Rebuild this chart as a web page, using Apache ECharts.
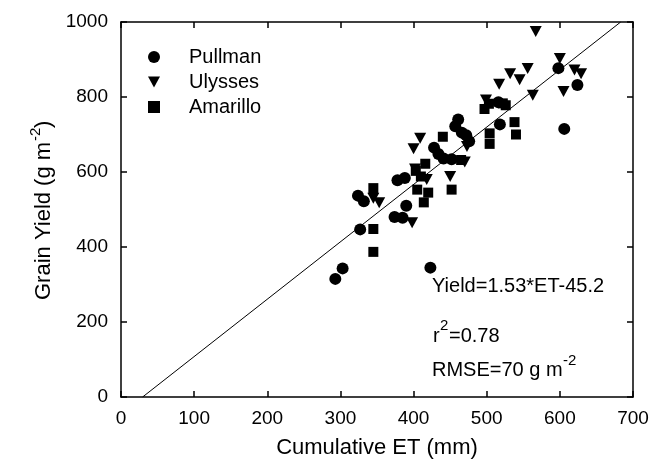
<!DOCTYPE html>
<html>
<head>
<meta charset="utf-8">
<script src="https://cdn.jsdelivr.net/npm/echarts@6/dist/echarts.min.js"></script>
<style>
html,body{margin:0;padding:0;background:#fff;}
#main{width:654px;height:466px;}
</style>
</head>
<body>
<div id="main"></div>
<script>
// 数据: [ET (mm), yield (g m-2)]
var pullman = [
    [293,315],[303,343],[327,447],[324,537],[332,522],[374,480],[385,478],
    [378,578],[388,584],[390,510],[423,345],[428,665],[434,648],[441,636],
    [452,634],[457,722],[461,740],[466,705],[472,698],[476,682],[516,786],
    [518,727],[598,877],[606,715],[624,832]
];
var ulysses = [
    [345,530],[353,518],[398,465],[400,662],[402,608],[409,690],[418,580],
    [450,588],[470,627],[473,668],[499,792],[517,834],[532,862],[545,846],
    [556,876],[563,805],[567,975],[600,903],[605,815],[620,872],[629,862]
];
var amarillo = [
    [345,387],[345,448],[345,557],[405,553],[414,519],[410,588],[403,603],
    [416,622],[440,694],[452,553],[465,632],[497,768],[503,782],[522,783],
    [526,778],[504,703],[504,675],[538,733],[540,700],[420,545]
];
var seriesNames = ['Pullman', 'Ulysses', 'Amarillo'];
var xTicks = [0, 100, 200, 300, 400, 500, 600, 700];
var yTicks = [0, 200, 400, 600, 800, 1000];
// 回归: Yield = 1.53*ET - 45.2
var slope = 1.53, intercept = -45.2;

var font = 'Liberation Sans, Arial, sans-serif';
var triIcon = 'path://M0,0L10,0L5,9Z';

// 回归线两端点
var fitLine = [
    [-intercept / slope, 0],
    [(yTicks[yTicks.length - 1] - intercept) / slope, yTicks[yTicks.length - 1]]
];

var chart = echarts.init(document.getElementById('main'));

function baseX(pos){
    return {
        type: 'value', position: pos,
        min: xTicks[0], max: xTicks[xTicks.length - 1], interval: 100,
        axisLine: {show: true, onZero: false, lineStyle: {color: '#000', width: 1.5}},
        axisTick: {show: true, inside: true, length: 6, lineStyle: {color: '#000', width: 1.5}},
        axisLabel: {show: pos == 'bottom', color: '#000', fontSize: 19, fontFamily: font, margin: 12,
            formatter: function(v){ return String(v); }},
        splitLine: {show: false}
    };
}
function baseY(pos){
    return {
        type: 'value', position: pos,
        min: yTicks[0], max: yTicks[yTicks.length - 1], interval: 200,
        axisLine: {show: true, onZero: false, lineStyle: {color: '#000', width: 1.5}},
        axisTick: {show: true, inside: true, length: 6, lineStyle: {color: '#000', width: 1.5}},
        axisLabel: {show: pos == 'left', color: '#000', fontSize: 19, fontFamily: font, margin: 13,
            formatter: function(v){ return String(v); }},
        splitLine: {show: false}
    };
}

var xBottom = baseX('bottom');
xBottom.name = 'Cumulative ET (mm)';
xBottom.nameLocation = 'middle';
xBottom.nameGap = 40;
xBottom.nameTextStyle = {color: '#000', fontSize: 22, fontFamily: font};

function txt(x, y, s, size){
    return {type: 'text', x: x, y: y, style: {
        text: s, fill: '#000', font: size + 'px ' + font, verticalAlign: 'middle'}};
}

// y轴标题 (旋转的组, 上标单独放)
var yTitle = {
    type: 'group', x: 44, y: 210, rotation: Math.PI / 2,
    children: [
        txt(-90, 0, 'Grain Yield (g m', 22),
        txt(69, -8, '-2', 15),
        txt(82, 0, ')', 22)
    ]
};

var option = {
    backgroundColor: '#fff',
    animation: false,
    grid: {left: 121, right: 21, top: 22, bottom: 69},
    xAxis: [xBottom, baseX('top')],
    yAxis: [baseY('left'), baseY('right')],
    legend: {
        orient: 'vertical',
        left: 143, top: 42,
        itemWidth: 12, itemHeight: 12, itemGap: 5,
        textStyle: {color: '#000', fontSize: 20, fontFamily: font, padding: [0, 0, 0, 24]},
        data: [
            {name: 'Pullman', icon: 'circle'},
            {name: 'Ulysses', icon: triIcon},
            {name: 'Amarillo', icon: 'rect'}
        ]
    },
    graphic: [
        yTitle,
        txt(432, 286, 'Yield=1.53*ET-45.2', 20),
        txt(433, 336, 'r', 20),
        txt(440, 326, '2', 15),
        txt(449, 336, '=0.78', 20),
        txt(432, 370, 'RMSE=70 g m', 20),
        txt(563, 361, '-2', 15)
    ],
    series: [
        {
            name: 'fit', type: 'line', data: fitLine, showSymbol: false, silent: true,
            lineStyle: {color: '#000', width: 1}, z: 1
        },
        {
            name: 'Pullman', type: 'scatter', data: pullman,
            symbol: 'circle', symbolSize: 12, itemStyle: {color: '#000', opacity: 1}
        },
        {
            name: 'Ulysses', type: 'scatter', data: ulysses,
            symbol: triIcon, symbolSize: [12, 11], itemStyle: {color: '#000', opacity: 1}
        },
        {
            name: 'Amarillo', type: 'scatter', data: amarillo,
            symbol: 'rect', symbolSize: 10, itemStyle: {color: '#000', opacity: 1}
        }
    ]
};
chart.setOption(option);
</script>
</body>
</html>
